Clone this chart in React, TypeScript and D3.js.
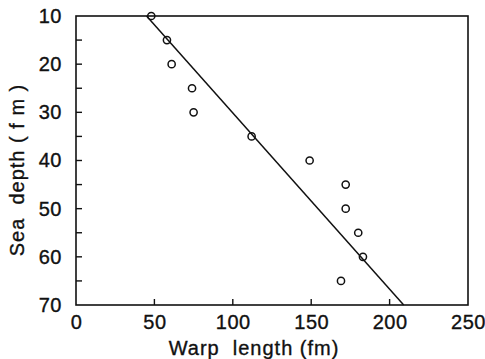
import React, { useRef, useEffect } from "react";
import * as d3 from "d3";

// warp length (fm) vs sea depth (fm)
const warpLength = [48, 58, 61, 74, 75, 112, 149, 172, 172, 180, 183, 169];
const seaDepth = [10, 15, 20, 25, 30, 35, 40, 45, 50, 55, 60, 65];

// fitted line end points
const fitWarp = [45, 209];
const fitDepth = [10, 70];

const xTicks = [0, 50, 100, 150, 200, 250];
const yTicks = [10, 20, 30, 40, 50, 60, 70];
const yMinorTicks = [15, 20, 25, 30, 35, 40, 45, 50, 55, 60, 65];

const App: React.FC = () => {
  const svgRef = useRef<SVGSVGElement>(null);

  useEffect(() => {
    const svg = d3.select(svgRef.current);
    svg.selectAll("*").remove();
    const width = 485;
    const height = 359;
    const margin = { top: 16, right: 17, bottom: 54, left: 76 };
    const font = "'Liberation Sans', Arial, sans-serif";

    const x = d3
      .scaleLinear()
      .domain([0, 250])
      .range([margin.left, width - margin.right]);

    const y = d3
      .scaleLinear()
      .domain([10, 70])
      .range([margin.top, height - margin.bottom]);

    const styleText = (sel: any, spacing: number) =>
      sel
        .attr("font-family", font)
        .attr("font-size", 20)
        .attr("letter-spacing", spacing)
        .attr("fill", "#111")
        .attr("stroke", "#111")
        .attr("stroke-width", 0.35);

    // frame
    svg
      .append("rect")
      .attr("x", x(0))
      .attr("y", y(10))
      .attr("width", x(250) - x(0))
      .attr("height", y(70) - y(10))
      .attr("fill", "none")
      .attr("stroke", "#111")
      .attr("stroke-width", 1.6);

    // x axis, ticks pointing inward
    const gx = svg
      .append("g")
      .attr("transform", `translate(0,${y(70)})`)
      .call(
        d3
          .axisBottom(x)
          .tickValues(xTicks)
          .tickSize(0)
          .tickPadding(10)
          .tickFormat(d3.format("d"))
      );
    gx.select(".domain").remove();
    gx.selectAll(".tick line").remove();
    styleText(gx.selectAll("text"), 0.5);
    svg
      .append("g")
      .selectAll("line")
      .data(xTicks.slice(1, -1))
      .enter()
      .append("line")
      .attr("x1", (d) => x(d))
      .attr("x2", (d) => x(d))
      .attr("y1", y(70))
      .attr("y2", y(70) - 6)
      .attr("stroke", "#111")
      .attr("stroke-width", 1.4);

    // y axis
    const gy = svg
      .append("g")
      .attr("transform", `translate(${x(0)},0)`)
      .call(
        d3
          .axisLeft(y)
          .tickValues(yTicks)
          .tickSize(0)
          .tickPadding(14)
          .tickFormat(d3.format("d"))
      );
    gy.select(".domain").remove();
    gy.selectAll(".tick line").remove();
    styleText(gy.selectAll("text"), 0.5);
    svg
      .append("g")
      .selectAll("line")
      .data(yMinorTicks)
      .enter()
      .append("line")
      .attr("x1", x(0))
      .attr("x2", x(0) + 6)
      .attr("y1", (d) => y(d))
      .attr("y2", (d) => y(d))
      .attr("stroke", "#111")
      .attr("stroke-width", 1.4);

    // fitted line
    const line = d3
      .line<number>()
      .x((d) => x(d))
      .y((_, i) => y(fitDepth[i]));
    svg
      .append("path")
      .attr("d", line(fitWarp))
      .attr("fill", "none")
      .attr("stroke", "#111")
      .attr("stroke-width", 1.5);

    // observations
    svg
      .append("g")
      .selectAll("circle")
      .data(warpLength)
      .enter()
      .append("circle")
      .attr("cx", (d) => x(d))
      .attr("cy", (_, i) => y(seaDepth[i]))
      .attr("r", 3.6)
      .attr("fill", "none")
      .attr("stroke", "#111")
      .attr("stroke-width", 1.5);

    // axis titles
    styleText(
      svg
        .append("text")
        .attr("x", 254)
        .attr("y", 355)
        .attr("text-anchor", "middle")
        .style("white-space", "pre")
        .text("Warp  length (fm)"),
      1
    );

    styleText(
      svg
        .append("text")
        .attr("transform", `translate(24,170) rotate(-90)`)
        .attr("text-anchor", "middle")
        .style("white-space", "pre")
        .text("Sea  depth ( f m )"),
      1
    );
  }, []);

  return (
    <svg
      ref={svgRef}
      width={485}
      height={359}
      style={{ position: "absolute", left: 0, top: 0, background: "#fff" }}
    ></svg>
  );
};

export default App;
